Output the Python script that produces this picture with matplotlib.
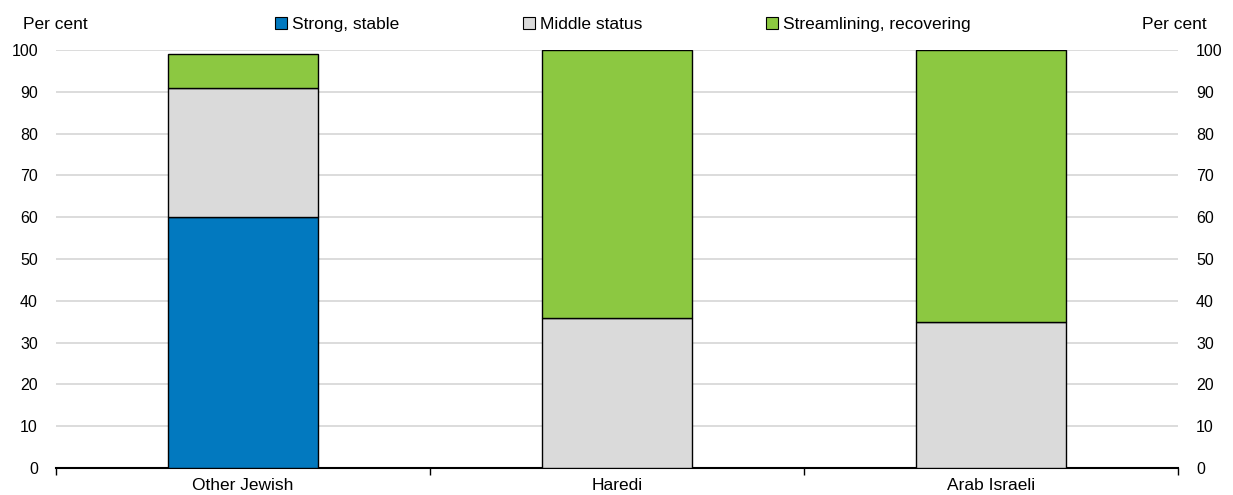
import numpy as np
import matplotlib.pyplot as plt
from matplotlib.patches import Patch

plt.rcParams['font.family'] = ['Liberation Sans', 'DejaVu Sans']

# data
categories = ['Other Jewish', 'Haredi', 'Arab Israeli']
series_names = ['Strong, stable', 'Middle status', 'Streamlining, recovering']
strong = [60, 0, 0]
middle = [31, 36, 35]
streamlining = [8, 64, 65]
colors = ['#0279bf', '#dadada', '#8cc841']

fig = plt.figure(figsize=(12.33, 4.95), dpi=100)
ax = fig.add_axes([0.0454, 0.0545, 0.91, 0.8445])

x = np.arange(len(categories))
bottom = np.zeros(len(categories))
for vals, col in zip([strong, middle, streamlining], colors):
    vals = np.array(vals, dtype=float)
    ax.bar(x, vals, width=0.4, bottom=bottom, color=col,
           edgecolor='black', linewidth=1.0, zorder=3)
    bottom += vals

ax.set_xlim(-0.5, len(categories) - 0.5)
ax.set_ylim(0, 100)
ax.set_yticks(range(0, 101, 10))
ax.yaxis.grid(True, color='#d9d9d9', linewidth=1.3, zorder=0)
ax.set_axisbelow(True)

# category labels, boundary ticks between categories
ax.set_xticks(x)
ax.set_xticklabels(categories, fontsize=12.5)
ax.tick_params(axis='x', length=0, pad=7)
ax.set_xticks(np.arange(-0.5, len(categories)), minor=True)
ax.tick_params(axis='x', which='minor', length=5, width=1, direction='out')

ax.tick_params(axis='y', length=0, labelsize=11.5, pad=13, right=True, labelright=True)

for s in ['left', 'right', 'top']:
    ax.spines[s].set_visible(False)
ax.spines['bottom'].set_linewidth(1.5)

fig.text(0.0187, 0.95, 'Per cent', fontsize=12.5, ha='left', va='center')
fig.text(0.979, 0.95, 'Per cent', fontsize=12.5, ha='right', va='center')

handles = [Patch(facecolor=c, edgecolor='black', linewidth=0.8) for c in colors]
fig.legend(handles, series_names, loc='center', bbox_to_anchor=(0.505, 0.95),
           ncol=3, frameon=False, fontsize=12.5, handlelength=0.7, handleheight=0.7,
           handletextpad=0.25, columnspacing=7.15, borderaxespad=0)

fig.savefig('out.png', dpi=100)
